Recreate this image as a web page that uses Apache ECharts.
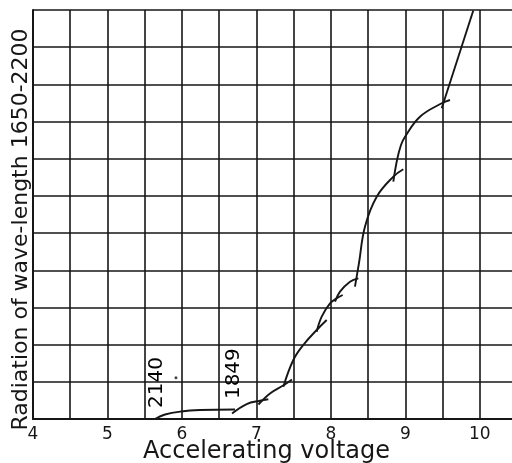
<!DOCTYPE html>
<html>
<head>
<meta charset="utf-8">
<script src="https://cdn.jsdelivr.net/npm/echarts@6/dist/echarts.min.js"></script>
<style>html,body{margin:0;padding:0;background:#fff}#c{width:512px;height:463px}</style>
</head>
<body>
<div id="c"></div>
<script>
// x ticks (accelerating voltage)
const xTickLabels = [4, 5, 6, 7, 8, 9, 10];
// curve segments: [voltage, radiation (grid units)]
const segA = [[5.638, 0], [5.773, 0.121], [5.988, 0.202], [6.243, 0.242], [6.713, 0.256]];
const segB = [[6.673, 0.148], [6.870, 0.403], [7.049, 0.492], [7.160, 0.530]];
const segC = [[7.028, 0.390], [7.183, 0.686], [7.371, 0.914], [7.478, 1.062]];
const segD = [[7.362, 0.869], [7.496, 1.587], [7.630, 1.990], [7.810, 2.394], [7.944, 2.663]];
const segE = [[7.810, 2.348], [7.877, 2.751], [7.989, 3.112], [8.079, 3.246], [8.159, 3.335]];
const segF = [[8.056, 3.155], [8.123, 3.424], [8.257, 3.693], [8.369, 3.784]];
const segG = [[8.324, 3.558], [8.378, 4.196], [8.458, 5.172], [8.616, 5.979], [8.839, 6.517], [8.973, 6.716]];
const segH = [[8.839, 6.382], [8.889, 6.966], [8.942, 7.370], [8.996, 7.593], [9.197, 8.131], [9.489, 8.491], [9.600, 8.580]];
const segI = [[9.489, 8.357], [9.913, 10.987]];
// wavelength threshold annotations
const annoText = ['2140', '1849'];
const annoX = [5.66, 6.69];
const annoY = [0.98, 1.22];
const dotPoint = [[5.92, 1.11]];

const ink = '#161616';
const segments = [segA, segB, segC, segD, segE, segF, segG, segH, segI];
const series = segments.map(s => ({
  type: 'line', data: s, smooth: 0.4, symbol: 'none', silent: true,
  lineStyle: { color: ink, width: 1.9 }
}));
series.push({
  type: 'scatter', symbolSize: 0, silent: true,
  itemStyle: { color: ink, opacity: 1 },
  data: annoText.map((t, i) => ({ value: [annoX[i], annoY[i]], name: t })),
  label: { show: true, formatter: p => p.name, rotate: 90, position: 'inside',
    fontFamily: 'DejaVu Sans', fontSize: 20, color: '#000', textBorderWidth: 0, opacity: 1 }
});
series.push({
  type: 'scatter', symbol: 'circle', symbolSize: 3, silent: true,
  itemStyle: { color: ink }, data: dotPoint
});

const chart = echarts.init(document.getElementById('c'), null, { renderer: 'canvas' });
chart.setOption({
  backgroundColor: '#fff',
  animation: false,
  grid: { left: 33, right: -5, top: 10, bottom: 44, containLabel: false, outerBoundsMode: 'none' },
  xAxis: {
    type: 'value', min: 4, max: 10.5, interval: 0.5,
    name: 'Accelerating voltage', nameLocation: 'middle', nameGap: 21, nameMoveOverlap: false,
    nameTextStyle: { fontFamily: 'DejaVu Sans', fontSize: 24, color: ink, padding: [0, 17, 0, 0] },
    axisLine: { show: true, lineStyle: { color: ink, width: 2 } },
    axisTick: { show: false },
    axisLabel: {
      margin: 7, fontFamily: 'DejaVu Sans', fontSize: 17, color: ink,
      formatter: v => (xTickLabels.indexOf(v) >= 0 ? String(v) : ''),
      showMaxLabel: false
    },
    splitLine: { show: true, lineStyle: { color: ink, width: 1.6 } }
  },
  yAxis: {
    type: 'value', min: 0, max: 11, interval: 1,
    name: 'Radiation of wave-length 1650-2200', nameLocation: 'middle', nameGap: 1, nameRotate: 90, nameMoveOverlap: false,
    nameTextStyle: { fontFamily: 'DejaVu Sans', fontSize: 22, color: ink, padding: [0, 30, 0, 0] },
    axisLine: { show: true, lineStyle: { color: ink, width: 2 } },
    axisTick: { show: false },
    axisLabel: { show: false },
    splitLine: { show: true, lineStyle: { color: ink, width: 1.6 } }
  },
  series: series
});
</script>
</body>
</html>
